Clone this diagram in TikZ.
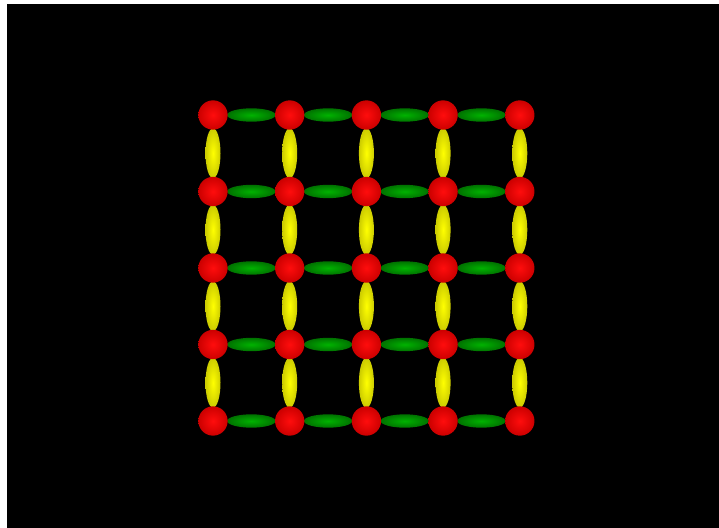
\documentclass[tikz,border=0pt]{standalone}
\usepackage{tikz}
\usetikzlibrary{shapes.geometric, calc}

\tikzset{
  atom/.style={circle, inner sep=0pt, minimum size=0.88cm, inner color=red!95!white, outer color=red!80!black},
  hbond/.style={ellipse, inner sep=0pt, minimum width=1.45cm, minimum height=0.4cm, inner color=green!70!black, outer color=green!45!black},
  vbond/.style={ellipse, inner sep=0pt, minimum width=0.45cm, minimum height=1.5cm, inner color=yellow, outer color=yellow!80!black}
}

\begin{document}
\begin{tikzpicture}[x=0.03cm, y=-0.03cm]
\useasboundingbox (0,0) rectangle (719,528);
\fill[white] (0,0) rectangle (719,528);
\fill[black] (7,4) rectangle (719,528);
% lattice points
\foreach \i in {0,...,4}{
  \foreach \j in {0,...,4}{
    \coordinate (p\i\j) at ({213+76.7*\i},{115+76.5*\j});
  }
}
% bonds
\foreach \i [evaluate=\i as \k using int(\i+1)] in {0,...,3}{
  \foreach \j in {0,...,4}{
    \node[hbond] (h\i\j) at ($(p\i\j)!0.5!(p\k\j)$) {};
    \node[vbond] (v\j\i) at ($(p\j\i)!0.5!(p\j\k)$) {};
  }
}
% atoms
\foreach \i in {0,...,4}{
  \foreach \j in {0,...,4}{
    \node[atom] (a\i\j) at (p\i\j) {};
  }
}
\end{tikzpicture}
\end{document}
